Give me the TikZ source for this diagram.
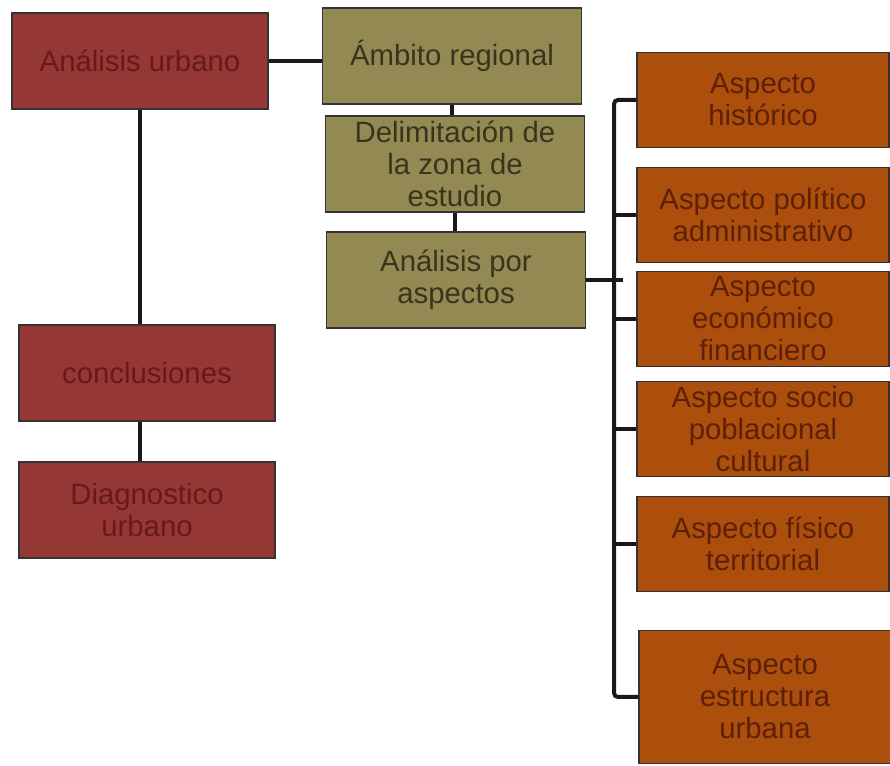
\documentclass[tikz,border=0pt]{standalone}
\usepackage{fontspec}
\setmainfont{Liberation Sans}
\definecolor{rojo}{RGB}{149,55,53}
\definecolor{rojotxt}{RGB}{105,25,28}
\definecolor{oliva}{RGB}{147,137,83}
\definecolor{olivatxt}{RGB}{58,52,28}
\definecolor{naranja}{RGB}{172,78,12}
\definecolor{naranjatxt}{RGB}{95,32,8}
\tikzset{
  caja/.style={draw=black!80, line width=0.9pt, align=center, inner sep=2pt,
    font=\fontsize{22}{24}\selectfont},
  cajaroja/.style={caja, fill=rojo, text=rojotxt, minimum width=192pt, minimum height=72pt},
  cajaoliva/.style={caja, fill=oliva, text=olivatxt, minimum width=194pt, minimum height=72pt},
  cajanaranja/.style={caja, fill=naranja, text=naranjatxt, minimum width=189pt, minimum height=71pt},
  conn/.style={draw=black!90, line width=3pt}
}
\begin{document}
\begin{tikzpicture}[x=0.75pt,y=-0.75pt]
\useasboundingbox (0,0) rectangle (890,766);
\node[cajaroja] (urbano) at (140,61) {Análisis urbano};
\node[cajaroja] (conclus) at (147,373) {conclusiones};
\node[cajaroja] (diag) at (147,510) {Diagnostico\\urbano};
\node[cajaoliva] (ambito) at (452,56) {Ámbito regional};
\node[cajaoliva] (delim) at (455,164) {Delimitación de\\la zona de\\estudio};
\node[cajaoliva] (aspectos) at (456,280) {Análisis por\\aspectos};
\node[cajanaranja] (historico) at (763,100) {Aspecto\\histórico};
\node[cajanaranja] (politico) at (763,215) {Aspecto político\\administrativo};
\node[cajanaranja] (economico) at (763,319) {Aspecto\\económico\\financiero};
\node[cajanaranja] (socio) at (763,429) {Aspecto socio\\poblacional\\cultural};
\node[cajanaranja] (fisico) at (763,544) {Aspecto físico\\territorial};
\node[cajanaranja, minimum height=100pt] (estructura) at (765,697) {Aspecto\\estructura\\urbana};
\coordinate (bus) at (614,0);
\coordinate (stub) at (623,0);
% izquierda
\draw[conn] (urbano.east) -- (urbano.east -| ambito.west);
\draw[conn] (urbano.south) -- (urbano.south |- conclus.north);
\draw[conn] (conclus.south -| urbano.south) -- (diag.north -| urbano.south);
\draw[conn] (ambito.south) -- (ambito.south |- delim.north);
\draw[conn] (delim.south) -- (delim.south |- aspectos.north);
% aspectos
\draw[conn] (aspectos.east) -- (aspectos.east -| stub);
\draw[conn, rounded corners=3pt] (historico.west) -| (estructura.west -| bus) -- (estructura.west);
\foreach \n in {politico,economico,socio,fisico}
  \draw[conn] (\n.west) -- (\n.west -| bus);
\end{tikzpicture}
\end{document}
